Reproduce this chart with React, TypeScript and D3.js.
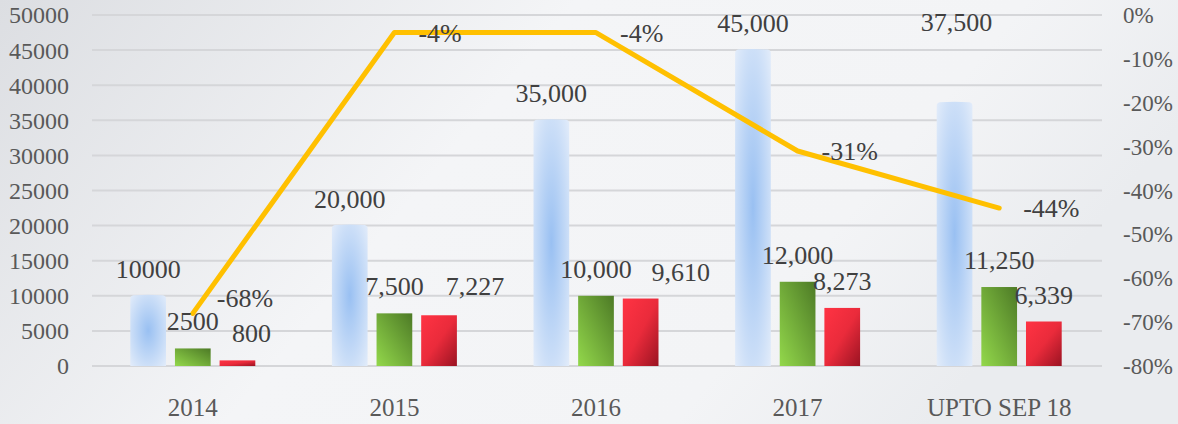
import React from "react";
import * as d3 from "d3";

const categories = ["2014", "2015", "2016", "2017", "UPTO SEP 18"];
const series1 = [10000, 20000, 35000, 45000, 37500];
const series2 = [2500, 7500, 10000, 12000, 11250];
const series3 = [800, 7227, 9610, 8273, 6339];
const growth = [-0.68, -0.04, -0.04, -0.31, -0.44];
const leftTicks = [0, 5000, 10000, 15000, 20000, 25000, 30000, 35000, 40000, 45000, 50000];
const rightTicks = [0, -0.1, -0.2, -0.3, -0.4, -0.5, -0.6, -0.7, -0.8];
const seriesNames = ["s1", "s2", "s3"];

// label nudges (layout only), keyed "series-categoryIndex"
const NUDGE: Record<string, [number, number]> = {
  "s1-4": [2, -54],
  "s3-0": [14, 0],
  "s3-1": [36, -2],
  "s3-2": [40, 0],
  "g-0": [0, -15],
};

const W = 1178;
const H = 424;
const X0 = 92;
const X1 = 1100;
const Y0 = 366;
const Y1 = 15;

const locale = d3.formatLocale({
  decimal: ".",
  thousands: ",",
  grouping: [3],
  currency: ["$", ""],
  minus: "-",
  percent: "%",
});

export default function App() {
  const x = d3.scaleBand<string>().domain(categories).range([X0, X1]).padding(0);
  const bw = x.bandwidth();
  const x1 = d3
    .scaleBand<string>()
    .domain(seriesNames)
    .range([bw / 2 - 62.5, bw / 2 + 62.5])
    .paddingInner(0.2)
    .paddingOuter(0);
  const y = d3.scaleLinear().domain([0, 50000]).range([Y0, Y1]);
  const y2 = d3.scaleLinear().domain([-0.8, 0]).range([Y0, Y1]);
  const barW = x1.bandwidth();

  const fmt = (v: number, i: number) => (i === 0 ? locale.format("d")(v) : locale.format(",")(v));
  const pct = locale.format(".0%");

  const line = d3
    .line<number>()
    .x((_, i) => (x(categories[i]) as number) + bw / 2)
    .y((d) => y2(d));

  const allSeries = [
    { key: "s1", values: series1, fill: "url(#gBlue)" },
    { key: "s2", values: series2, fill: "url(#gGreen)" },
    { key: "s3", values: series3, fill: "url(#gRed)" },
  ];

  const labelStyle = { fontFamily: "'Liberation Serif', 'Times New Roman', serif" };

  return (
    <svg
      width={W}
      height={H}
      style={{ position: "absolute", left: 0, top: 0, display: "block" }}
    >
      <defs>
        <linearGradient id="bg" x1="0" y1="0" x2="1" y2="0.3">
          <stop offset="0" stopColor="#dcdee2" />
          <stop offset="0.45" stopColor="#f4f5f7" />
          <stop offset="0.8" stopColor="#f3f4f6" />
          <stop offset="1" stopColor="#eaecef" />
        </linearGradient>
        <radialGradient id="gBlue" cx="0.5" cy="0.5" r="0.7">
          <stop offset="0" stopColor="#99c0f2" />
          <stop offset="1" stopColor="#e2ecfa" />
        </radialGradient>
        <linearGradient id="gGreen" x1="0" y1="1" x2="1" y2="0">
          <stop offset="0" stopColor="#93d84b" />
          <stop offset="1" stopColor="#4d7a26" />
        </linearGradient>
        <linearGradient id="gRed" x1="0" y1="0" x2="1" y2="1">
          <stop offset="0" stopColor="#ff3343" />
          <stop offset="0.5" stopColor="#ea2b3b" />
          <stop offset="1" stopColor="#9a1322" />
        </linearGradient>
      </defs>
      <rect x={0} y={0} width={W} height={H} fill="url(#bg)" />

      {leftTicks.map((t) => (
        <line key={"g" + t} x1={X0} x2={X1 + 2} y1={y(t)} y2={y(t)} stroke="#d5d6d9" strokeWidth={2} />
      ))}

      {leftTicks.map((t) => (
        <text
          key={"l" + t}
          x={69}
          y={y(t)}
          dy="0.35em"
          textAnchor="end"
          fontSize={24}
          fill="#595959"
          style={labelStyle}
        >
          {t}
        </text>
      ))}
      {rightTicks.map((t) => (
        <text
          key={"r" + t}
          x={1123}
          y={y2(t)}
          dy="0.35em"
          textAnchor="start"
          fontSize={23}
          fill="#595959"
          style={labelStyle}
        >
          {pct(t)}
        </text>
      ))}
      {categories.map((c) => (
        <text
          key={"c" + c}
          x={(x(c) as number) + bw / 2}
          y={407}
          dy="0.35em"
          textAnchor="middle"
          fontSize={25}
          fill="#595959"
          style={labelStyle}
        >
          {c}
        </text>
      ))}

      {allSeries.map((s) =>
        s.values.map((v, i) => {
          const bx = (x(categories[i]) as number) + (x1(s.key) as number);
          const top = y(v);
          if (s.key === "s1") {
            const r = 3;
            const d = `M${bx},${Y0} V${top + r} Q${bx},${top} ${bx + r},${top - 0.5} Q${bx + barW / 2},${top - 1.5} ${bx + barW - r},${top - 0.5} Q${bx + barW},${top} ${bx + barW},${top + r} V${Y0} Z`;
            return <path key={s.key + i} d={d} fill={s.fill} />;
          }
          return <rect key={s.key + i} x={bx} y={top} width={barW} height={Y0 - top} fill={s.fill} />;
        })
      )}

      <path
        d={line(growth) as string}
        fill="none"
        stroke="#ffc000"
        strokeWidth={5}
        strokeLinecap="round"
        strokeLinejoin="round"
      />

      {allSeries.map((s) =>
        s.values.map((v, i) => {
          const n = NUDGE[s.key + "-" + i] || [0, 0];
          const cx = (x(categories[i]) as number) + (x1(s.key) as number) + barW / 2;
          return (
            <text
              key={"t" + s.key + i}
              x={cx + n[0]}
              y={y(v) - 18 + n[1]}
              textAnchor="middle"
              fontSize={26}
              fill="#404040"
              style={labelStyle}
            >
              {fmt(v, i)}
            </text>
          );
        })
      )}

      {growth.map((g, i) => {
        const n = NUDGE["g-" + i] || [0, 0];
        return (
          <text
            key={"p" + i}
            x={(x(categories[i]) as number) + bw / 2 + 24 + n[0]}
            y={y2(g) + n[1]}
            dy="0.35em"
            textAnchor="start"
            fontSize={26}
            fill="#404040"
            style={labelStyle}
          >
            {pct(g)}
          </text>
        );
      })}
    </svg>
  );
}
